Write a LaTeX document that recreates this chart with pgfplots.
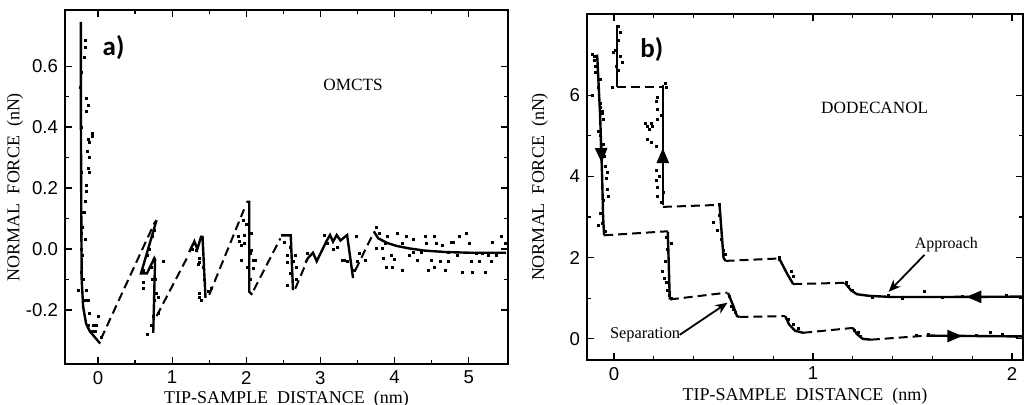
\documentclass[border=0pt]{standalone}
\usepackage{fontspec}
\setmainfont{Liberation Serif}
\newfontfamily\sansf{Liberation Sans}
\newfontfamily\calf{Carlito}
\usepackage{pgfplots}
\pgfplotsset{compat=1.18}
\usetikzlibrary{arrows.meta}
\pgfplotsset{
  panel/.style={
    scale only axis, anchor=south west,
    axis line style={line width=0.8pt},
    tick style={black, line width=0.6pt},
    major tick length=3.5pt, minor tick length=2pt,
    tick label style={font=\sansf\fontsize{9.3}{9}\selectfont},
    every axis x label/.style={at={(axis description cs:0.5,-0.1)},anchor=center,font=\fontsize{9}{9}\selectfont},
    every axis y label/.style={at={(axis description cs:-0.113,0.5)},rotate=90,anchor=center,font=\fontsize{9}{9}\selectfont},
  },
  solidl/.style={black, line width=1.2pt, no markers},
  dashl/.style={black, line width=1.0pt, no markers, dash pattern=on 4.5pt off 2.5pt},
  dots/.style={only marks, mark=square*, mark size=0.5pt, black},
}
\begin{document}
\begin{tikzpicture}
\useasboundingbox (0,0) rectangle (512pt,202.5pt);
% ---------------- panel a ----------------
\begin{axis}[panel, at={(32.5pt,20.5pt)}, width=221.5pt, height=177pt,
  xmin=-0.445, xmax=5.53, ymin=-0.377, ymax=0.784,
  xtick={0,1,2,3,4,5}, xticklabels={0,1,2,3,4,5}, minor x tick num=1,
  ytick={-0.2,0,0.2,0.4,0.6}, yticklabels={-0.2,0.0,0.2,0.4,0.6}, minor y tick num=1,
  xlabel={TIP-SAMPLE\ \ DISTANCE\ \ (nm)}, ylabel={NORMAL\ \ FORCE\ \ (nN)}]
\addplot[solidl] coordinates {(-0.23,0.745) (-0.23,0.40) (-0.225,0.10) (-0.22,-0.10) (-0.20,-0.19) (-0.16,-0.245) (-0.11,-0.27) (-0.05,-0.287) (0.03,-0.31)};
\addplot[dashl] coordinates {(0.04,-0.295) (0.77,0.09)};
\addplot[solidl] coordinates {(0.79,0.095) (0.58,-0.08) (0.66,-0.08) (0.76,-0.03) (0.77,-0.035) (0.745,-0.275)};
\addplot[dashl] coordinates {(0.79,-0.22) (1.22,-0.02)};
\addplot[solidl] coordinates {(1.23,-0.01) (1.30,0.025) (1.34,0.0) (1.39,0.04) (1.41,0.04) (1.45,-0.16)};
\addplot[dashl] coordinates {(1.50,-0.15) (1.97,0.13)};
\addplot[solidl] coordinates {(2.00,0.155) (2.04,0.155) (2.04,-0.14) (2.08,-0.15)};
\addplot[dashl] coordinates {(2.10,-0.135) (2.46,0.035)};
\addplot[solidl] coordinates {(2.47,0.045) (2.60,0.045) (2.63,-0.135)};
\addplot[dashl] coordinates {(2.66,-0.13) (2.80,-0.05)};
\addplot[solidl] coordinates {(2.80,-0.045) (2.83,-0.03) (2.90,-0.012) (2.95,-0.04) (3.03,0.0) (3.08,0.025) (3.13,0.046) (3.17,0.024) (3.22,0.046) (3.27,0.028) (3.36,0.046) (3.44,-0.095)};
\addplot[dashl] coordinates {(3.47,-0.07) (3.70,0.045)};
\addplot[solidl] coordinates {(3.72,0.058) (3.78,0.035) (3.90,0.02) (4.03,0.01) (4.20,0.002) (4.40,-0.005) (4.70,-0.01) (5.00,-0.012) (5.50,-0.012)};
\addplot[dots] coordinates {
(-0.175,0.685) (-0.175,0.66) (-0.19,0.63) (-0.24,0.53) (-0.15,0.495) (-0.13,0.47) (-0.15,0.45) (-0.08,0.38) (-0.13,0.36) (-0.11,0.35) (-0.08,0.37) (-0.14,0.32) (-0.12,0.30) (-0.13,0.265) (-0.11,0.25) (-0.16,0.21) (-0.16,0.19) (-0.175,0.155) (-0.19,0.12) (-0.21,0.07) (-0.22,0.05) (-0.175,0.03) (-0.21,-0.02) (-0.22,-0.075) (-0.20,-0.10) (-0.27,-0.135) (-0.15,-0.135) (-0.17,-0.167) (-0.13,-0.167) (-0.11,-0.21) (0.0,-0.22) (-0.13,-0.25) (-0.02,-0.25) (-0.06,-0.25) (-0.08,-0.27) (-0.04,-0.27) (0.05,-0.29)
(-0.22,0.58) (-0.23,0.40) (-0.22,0.25) (-0.22,0.12) (-0.23,0.0)
(0.61,-0.07) (0.61,-0.11) (0.61,-0.13) (0.88,-0.042) (0.67,-0.02) (0.74,0.04) (0.73,-0.10) (0.79,-0.145) (0.81,-0.21) (0.82,-0.16) (0.745,-0.22) (0.67,-0.28) (0.72,-0.25) (0.70,0.0) (0.76,0.06) (0.72,-0.06) (0.78,-0.10) (0.76,-0.17)
(1.33,-0.003) (1.37,-0.03) (1.37,-0.045) (1.42,-0.06) (1.37,-0.157) (1.39,-0.17) (1.49,-0.14) (1.53,-0.13) (1.35,-0.05) (1.37,-0.145) (1.27,0.0) (1.43,-0.10)
(1.91,0.024) (1.98,0.046) (2.0,0.08) (1.98,0.02) (2.07,-0.003) (2.09,-0.036) (1.89,0.04) (1.96,0.095) (1.94,0.013) (2.07,0.05) (2.05,-0.013) (1.94,-0.036) (2.12,-0.036) (2.09,-0.062) (2.05,-0.1) (2.01,-0.06)
(2.52,0.023) (2.59,0.007) (2.56,-0.02) (2.66,-0.02) (2.55,-0.045) (2.68,-0.06) (2.68,-0.1) (2.55,-0.12) (2.60,-0.08) (2.63,-0.04)
(2.83,-0.013) (3.06,0.046) (3.23,0.007) (3.30,-0.036) (3.33,-0.036) (3.49,0.04) (3.53,-0.013) (3.50,-0.04) (3.6,-0.036) (3.46,-0.07) (3.37,-0.04) (3.18,0.0) (3.10,0.02)
(3.76,0.072) (3.80,0.052) (3.76,0.003) (3.83,0.003) (3.91,0.04) (3.96,-0.02) (4.04,0.052) (4.10,0.02) (4.16,0.04) (4.2,-0.02) (3.89,-0.06) (3.97,-0.06) (4.10,-0.07) (4.31,-0.036) (4.41,0.04) (4.43,0.02) (4.50,-0.036) (4.54,0.04) (4.57,0.02) (4.54,-0.06) (4.65,0.013) (4.72,-0.04) (4.77,0.023) (4.80,0.023) (4.85,-0.02) (4.91,-0.075) (4.97,0.052) (5.01,0.02) (5.04,-0.04) (5.11,-0.013) (5.15,-0.04) (5.22,-0.075) (5.26,-0.02) (5.32,0.023) (5.44,0.04) (5.49,0.02) (4.26,-0.01) (4.36,-0.01) (4.62,-0.04) (4.68,-0.07) (4.88,0.04) (5.05,-0.075) (5.38,-0.02) (5.30,-0.04) (4.45,-0.07) (3.85,-0.03) (4.0,-0.035) (4.25,0.03) (5.18,-0.013) (3.87,0.02) (4.73,-0.01)
};
\node[font=\calf\bfseries\fontsize{13.5}{13}\selectfont] at (axis cs:0.21,0.66) {a)};
\node[font=\fontsize{8.6}{9}\selectfont] at (axis cs:3.44,0.538) {OMCTS};
\end{axis}
% ---------------- panel b ----------------
\begin{axis}[panel, at={(293.5pt,22.5pt)}, width=218pt, height=173pt,
  xmin=-0.136, xmax=2.055, ymin=-0.52, ymax=8.0,
  xtick={0,1,2}, xticklabels={0,1,2}, minor x tick num=4,
  ytick={0,2,4,6}, yticklabels={0,2,4,6}, minor y tick num=1,
  every axis x label/.style={at={(axis description cs:0.5,-0.105)},anchor=center,font=\fontsize{9}{9}\selectfont},
  every axis y label/.style={at={(axis description cs:-0.108,0.5)},rotate=90,anchor=center,font=\fontsize{9}{9}\selectfont},
  xlabel={TIP-SAMPLE\ \ DISTANCE\ \ (nm)}, ylabel={NORMAL\ \ FORCE\ \ (nN)}]
% separation (lower staircase)
\addplot[solidl] coordinates {(-0.085,7.0) (-0.07,5.5) (-0.06,4.0) (-0.055,3.0) (-0.05,2.55)};
\addplot[dashl] coordinates {(-0.05,2.55) (0.27,2.65)};
\addplot[solidl] coordinates {(0.27,2.64) (0.28,0.97)};
\addplot[dashl] coordinates {(0.28,0.97) (0.57,1.14)};
\addplot[solidl] coordinates {(0.573,1.13) (0.60,0.80) (0.618,0.56) (0.63,0.54)};
\addplot[dashl] coordinates {(0.63,0.54) (0.86,0.56)};
\addplot[solidl] coordinates {(0.86,0.56) (0.88,0.35) (0.91,0.20) (0.95,0.15)};
\addplot[dashl] coordinates {(0.95,0.15) (1.20,0.27)};
\addplot[solidl] coordinates {(1.20,0.27) (1.22,0.12) (1.25,0.0) (1.29,-0.02)};
\addplot[dashl] coordinates {(1.29,-0.02) (1.57,0.08)};
\addplot[solidl] coordinates {(1.57,0.08) (2.055,0.06)};
% approach (upper staircase)
\addplot[solidl] coordinates {(0.015,7.73) (0.015,6.2)};
\addplot[dashl] coordinates {(0.015,6.2) (0.245,6.2)};
\addplot[solidl] coordinates {(0.245,6.25) (0.245,3.3)};
\addplot[dashl] coordinates {(0.245,3.25) (0.53,3.3)};
\addplot[solidl] coordinates {(0.53,3.3) (0.55,2.0) (0.56,1.92)};
\addplot[dashl] coordinates {(0.56,1.92) (0.83,1.98)};
\addplot[solidl] coordinates {(0.83,1.98) (0.87,1.6) (0.90,1.35)};
\addplot[dashl] coordinates {(0.90,1.35) (1.16,1.38)};
\addplot[solidl] coordinates {(1.16,1.38) (1.19,1.2) (1.22,1.10) (1.28,1.06) (1.40,1.03) (1.60,1.03) (2.055,1.04)};
% direction arrows
\addplot[solidl, -{Triangle[length=7.5pt,width=6pt]}] coordinates {(1.87,1.035) (1.77,1.035)};
\addplot[solidl, -{Triangle[length=7.5pt,width=6pt]}] coordinates {(1.65,0.07) (1.75,0.07)};
\addplot[solidl, -{Triangle[length=7.5pt,width=6pt]}] coordinates {(-0.066,4.9) (-0.062,4.33)};
\addplot[solidl, -{Triangle[length=7.5pt,width=6pt]}] coordinates {(0.245,4.1) (0.245,4.7)};
\addplot[dots] coordinates {
(-0.11,7.0) (-0.1,6.95) (-0.1,6.85) (-0.095,6.55) (-0.095,6.7) (-0.11,6.0) (-0.08,6.2) (-0.07,5.7) (-0.06,5.6) (-0.055,5.4) (-0.07,5.8) (-0.06,5.55) (-0.07,5.0) (-0.08,5.1) (-0.055,4.8) (-0.045,4.25) (-0.035,4.1) (-0.04,3.95) (-0.035,3.67) (-0.03,3.5) (-0.055,3.42) (-0.07,3.1) (-0.06,2.85) (-0.045,2.64) (-0.08,2.8) (-0.05,4.5) (-0.07,6.4)
(0.02,7.7) (0.03,7.55) (0.02,7.35) (-0.005,7.05) (0.03,6.95) (0.04,6.8) (0.01,6.7) (0.02,6.6) (-0.01,6.2) (0.005,7.1)
(0.26,6.3) (0.265,6.2) (0.22,5.95) (0.215,5.85) (0.22,5.65) (0.22,5.4) (0.19,5.3) (0.195,5.22) (0.18,5.15) (0.165,4.9) (0.19,4.83) (0.215,4.73) (0.155,5.3) (0.165,5.22) (0.215,4.16) (0.215,3.9) (0.22,3.74) (0.22,3.5) (0.24,3.37) (0.245,3.35) (0.23,4.0) (0.24,5.5) (0.25,3.6)
(0.265,2.51) (0.29,2.36) (0.245,1.65) (0.255,1.5) (0.265,1.38) (0.27,1.2) (0.28,1.08) (0.27,2.2) (0.26,1.9) (0.29,1.0)
(0.53,3.3) (0.50,2.88) (0.52,2.68) (0.54,2.44) (0.55,2.19) (0.56,2.07) (0.83,1.95) (0.53,3.05)
(0.58,1.04) (0.59,0.79) (0.6,0.72) (0.61,0.65)
(0.83,2.0) (0.89,1.65) (0.9,1.53) (0.875,0.47) (0.9,0.35) (0.925,0.27) (1.17,1.4) (1.18,1.28) (1.2,1.2) (1.21,0.22) (1.23,0.15) (1.24,0.05) (1.30,1.03) (1.38,1.08) (1.56,1.16) (1.58,0.1) (1.89,0.15) (1.95,0.1) (1.97,1.08) (1.45,1.0) (1.75,1.05) (1.65,1.02) (1.52,0.08) (1.82,0.08) (2.02,0.07)
};
\node[font=\calf\bfseries\fontsize{13.5}{13}\selectfont] at (axis cs:0.19,7.12) {b)};
\node[font=\fontsize{8.6}{9}\selectfont] at (axis cs:1.31,5.69) {DODECANOL};
\node[font=\fontsize{8}{9}\selectfont] at (axis cs:1.67,2.32) {Approach};
\node[font=\fontsize{8.2}{9}\selectfont] at (axis cs:0.156,0.10) {Separation};
\draw[line width=0.9pt, -{Stealth[length=6pt,width=5pt]}] (axis cs:1.56,2.07) -- (axis cs:1.38,1.16);
\draw[line width=0.9pt, -{Stealth[length=6pt,width=5pt]}] (axis cs:0.33,0.10) -- (axis cs:0.57,0.89);
\end{axis}
\end{tikzpicture}
\end{document}
